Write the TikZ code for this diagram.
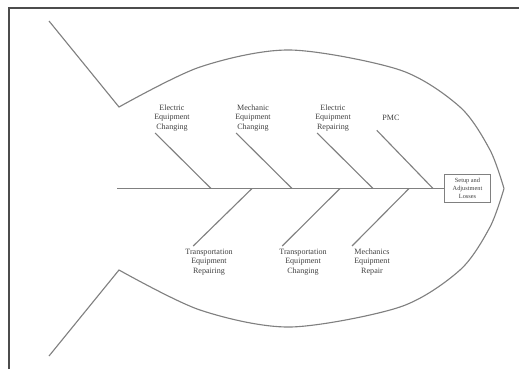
\documentclass[tikz,border=0pt]{standalone}
\usepackage{fontspec}
\setmainfont{Liberation Serif}
\begin{document}
\begin{tikzpicture}[x=0.5mm,y=-0.5mm,
	bone/.style={black!50, line width=1.6pt},
	lbl/.style={align=center, text=black!75, inner sep=0pt, font=\fontsize{11.5}{13.8}\selectfont}]
	\useasboundingbox (0,0) rectangle (519,369);
	\draw[black!70, line width=2.2pt] (9,369) -- (9,8) -- (519,8);
	\draw[bone, line join=miter] (49,21) -- plot[smooth] coordinates {(119,107) (200,67) (290,50) (400,70) (460,107) (490,150) (504,188.5)};
	\draw[bone, line join=miter] (49,356) -- plot[smooth] coordinates {(119,270) (200,310) (290,327) (400,307) (460,270) (490,227) (504,188.5)};
	\node[draw=black!50, line width=0.8pt, align=center, text=black!75, inner xsep=4mm, inner ysep=1.8mm, font=\fontsize{9}{11.5}\selectfont] (loss) at (467.5,188.5) {Setup and\\Adjustment\\Losses};
	\coordinate (head) at (117,188.5);
	\draw[bone] (head) -- (loss);
	\node[lbl] (ec) at (172,118) {Electric\\Equipment\\Changing};
	\node[lbl] (mc) at (253,118) {Mechanic\\Equipment\\Changing};
	\node[lbl] (er) at (333,118) {Electric\\Equipment\\Repairing};
	\node[lbl] (pmc) at (391,118) {PMC};
	\node[lbl] (tr) at (209,262) {Transportation\\Equipment\\Repairing};
	\node[lbl] (tc) at (303,262) {Transportation\\Equipment\\Changing};
	\node[lbl] (mr) at (372,262) {Mechanics\\Equipment\\Repair};
	\coordinate (s1) at (211,188.5);
	\coordinate (s2) at (292,188.5);
	\coordinate (s3) at (373,188.5);
	\coordinate (s4) at (433,188.5);
	\coordinate (t1) at (252,188.5);
	\coordinate (t2) at (340,188.5);
	\coordinate (t3) at (409,188.5);
	\draw[bone] ([shift={(1,1.5)}]ec.south west) -- (s1);
	\draw[bone] ([shift={(1,1.5)}]mc.south west) -- (s2);
	\draw[bone] ([shift={(2,1.5)}]er.south west) -- (s3);
	\draw[bone] ([shift={(-5.5,9.5)}]pmc.south west) -- (s4);
	\draw[bone] ([shift={(8,-2.6)}]tr.north west) -- (t1);
	\draw[bone] ([shift={(3,-2.6)}]tc.north west) -- (t2);
	\draw[bone] ([shift={(-2,-2.6)}]mr.north west) -- (t3);
\end{tikzpicture}
\end{document}
